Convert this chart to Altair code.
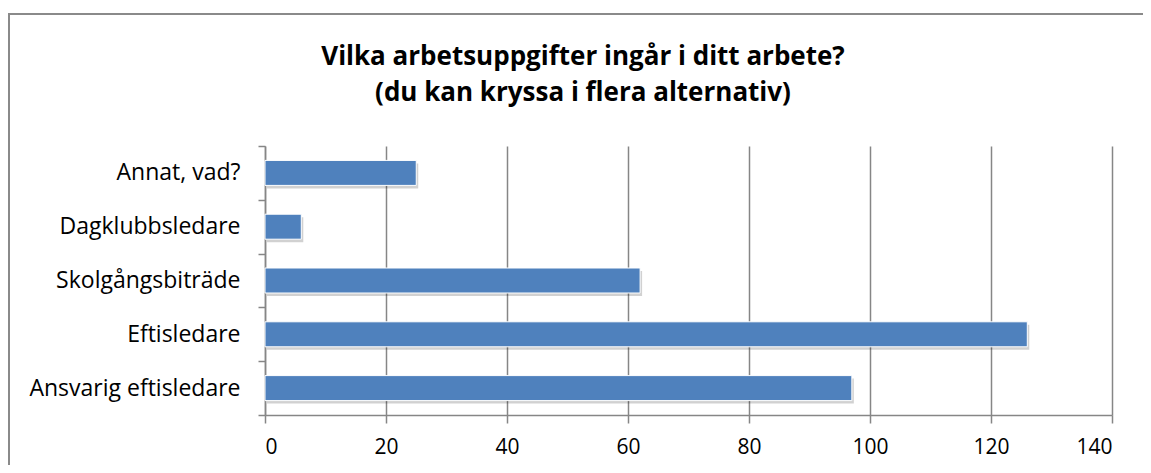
import altair as alt
import pandas as pd

categories = ["Annat, vad?", "Dagklubbsledare", "Skolgångsbiträde", "Eftisledare", "Ansvarig eftisledare"]
values = [25, 6, 62, 126, 97]
x_ticks = [0, 20, 40, 60, 80, 100, 120, 140]
title_lines = ["Vilka arbetsuppgifter ingår i ditt arbete?", "(du kan kryssa i flera alternativ)"]

df = pd.DataFrame({"cat": categories, "val": values})
df_title = pd.DataFrame({"line": title_lines, "idx": [0, 1]})

FONT = "Open Sans"
GRAY = "#868686"

x_enc = alt.X("val:Q", scale=alt.Scale(domain=[0, 140], nice=False),
              axis=alt.Axis(values=x_ticks, title=None, grid=True, gridColor=GRAY, gridWidth=1.5,
                            domainColor=GRAY, domainWidth=1.5, tickColor=GRAY, tickWidth=1.5,
                            tickSize=8, labelPadding=13, labelFontSize=21, labelFont=FONT,
                            labelColor="#000000"))
y_enc = alt.Y("cat:N", sort=categories, scale=alt.Scale(paddingInner=0.0, paddingOuter=0.0),
              axis=alt.Axis(title=None, grid=False, tickBand="extent", domainColor=GRAY, domainWidth=1.5,
                            tickColor=GRAY, tickWidth=1.5, tickSize=7, labelPadding=18, labelLimit=400,
                            labelFontSize=23, labelFont=FONT, labelColor="#000000"))

border = alt.Chart(df).mark_rect(fill=None, stroke="#8a8a8a", strokeWidth=2).encode(
    x=alt.value(-256), x2=alt.value(900), y=alt.value(-132), y2=alt.value(400)
)

title1 = alt.Chart(df_title).transform_filter("datum.idx == 0").mark_text(
    font=FONT, fontSize=26, fontWeight="bold", color="#000000", baseline="alphabetic", align="center"
).encode(text="line:N", x=alt.value(318), y=alt.value(-81))
title2 = alt.Chart(df_title).transform_filter("datum.idx == 1").mark_text(
    font=FONT, fontSize=26, fontWeight="bold", color="#000000", baseline="alphabetic", align="center"
).encode(text="line:N", x=alt.value(318), y=alt.value(-45))

shadow = alt.Chart(df).mark_bar(size=25, color="#000000", opacity=0.18, xOffset=2, yOffset=3).encode(
    x=x_enc, y=y_enc
)
bars = alt.Chart(df).mark_bar(size=25, color="#4F81BD", stroke="#ffffff", strokeWidth=1).encode(
    x=x_enc, y=y_enc
)

chart = alt.layer(border, title1, title2, shadow, bars).properties(
    width=847, height=269,
    autosize=alt.AutoSizeParams(type="none"),
    padding={"left": 257, "top": 138, "right": 31, "bottom": 50},
).configure_view(stroke=None)

chart.save("out.html", embed_options={"renderer": "svg", "actions": False})
